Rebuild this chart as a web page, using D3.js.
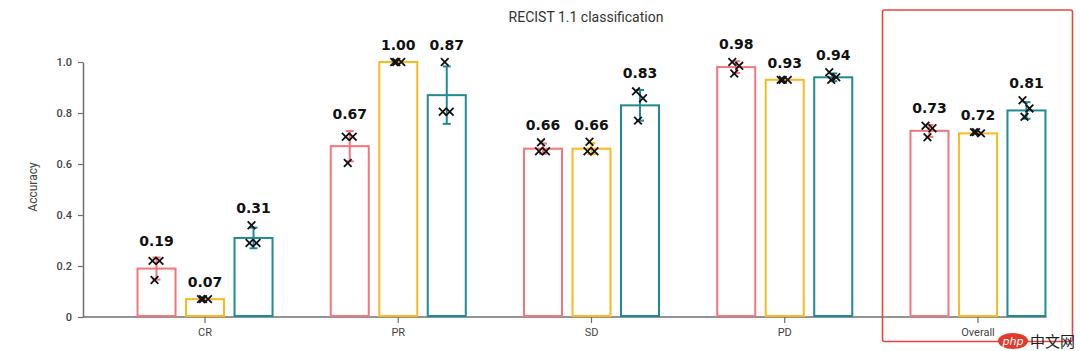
<!DOCTYPE html>
<html>
<head>
<meta charset="utf-8">
<script src="https://cdn.jsdelivr.net/npm/d3@7"></script>
<style>
  html, body { margin: 0; padding: 0; background: #fff; }
  svg { display: block; }
</style>
</head>
<body>
<div id="chart"></div>
<script>
// Categories and series
const groups = ['CR', 'PR', 'SD', 'PD', 'Overall'];
const seriesNames = ['Model 1', 'Model 2', 'Model 3'];
const seriesColors = ['#f4757c', '#fbb91e', '#1f8b95'];

// Bar values (mean accuracy), one array per series
const model1Acc = [0.19, 0.67, 0.66, 0.98, 0.73];
const model2Acc = [0.07, 1.00, 0.66, 0.93, 0.72];
const model3Acc = [0.31, 0.87, 0.83, 0.94, 0.81];

// Individual runs (the x markers), one list per category
const model1Runs = [[0.22, 0.22, 0.145], [0.707, 0.707, 0.604], [0.65, 0.65, 0.685], [1.0, 0.985, 0.955], [0.75, 0.74, 0.705]];
const model2Runs = [[0.07, 0.07, 0.07], [1.0, 1.0, 1.0], [0.65, 0.65, 0.687], [0.93, 0.93, 0.93], [0.725, 0.72, 0.725]];
const model3Runs = [[0.29, 0.29, 0.36], [0.805, 0.805, 1.0], [0.885, 0.858, 0.77], [0.96, 0.94, 0.93], [0.85, 0.818, 0.785]];

const yTicks = [0, 0.2, 0.4, 0.6, 0.8, 1.0];

const accs = [model1Acc, model2Acc, model3Acc];
const runs = [model1Runs, model2Runs, model3Runs];

// one row per bar
const bars = [];
groups.forEach((g, gi) => {
  seriesNames.forEach((s, si) => {
    const pts = runs[si][gi];
    bars.push({
      group: g,
      series: s,
      color: seriesColors[si],
      value: accs[si][gi],
      points: pts,
      sd: d3.deviation(pts) || 0
    });
  });
});

const width = 1080, height = 351;
const svg = d3.select('#chart').append('svg')
  .attr('width', width)
  .attr('height', height);

// Scales
const x0 = d3.scaleBand()
  .domain(groups)
  .range([108.4, 1074.6])
  .paddingInner(0.247)
  .paddingOuter(0.1235);

const x1 = d3.scaleBand()
  .domain(seriesNames)
  .range([0, x0.bandwidth()])
  .paddingInner(0.175)
  .paddingOuter(0.0875);

const y = d3.scaleLinear().domain([0, 1]).range([317, 62]);

const axisColor = '#6f6f6f';
const textColor = '#444';

// Title
svg.append('text')
  .attr('x', 586)
  .attr('y', 22)
  .attr('text-anchor', 'middle')
  .style('font-family', 'Roboto, sans-serif')
  .style('font-size', '14px')
  .attr('fill', '#333')
  .text('RECIST 1.1 classification');

// Y axis
const yAxis = svg.append('g')
  .attr('transform', 'translate(83,0)')
  .call(d3.axisLeft(y)
    .tickValues(yTicks)
    .tickFormat(d => d === 0 ? '0' : d3.format('.1f')(d))
    .tickSize(5)
    .tickSizeOuter(0)
    .tickPadding(6));
yAxis.select('.domain').attr('stroke', axisColor).attr('stroke-width', 1.5);
yAxis.selectAll('.tick line').attr('stroke', axisColor).attr('stroke-width', 1.2);
yAxis.selectAll('.tick text')
  .attr('fill', textColor)
  .style('font-family', 'Roboto, sans-serif')
  .style('font-size', '11px')
  .style('font-weight', 500);

svg.append('text')
  .attr('transform', 'translate(37,187) rotate(-90)')
  .attr('text-anchor', 'middle')
  .style('font-family', 'Roboto, sans-serif')
  .style('font-size', '12px')
  .attr('fill', textColor)
  .text('Accuracy');

// X axis
const lastRight = x0(groups[groups.length - 1]) + x1(seriesNames[2]) + x1.bandwidth();
const xAxis = svg.append('g')
  .attr('transform', 'translate(0,317)')
  .call(d3.axisBottom(x0).tickSize(6).tickSizeOuter(0).tickPadding(5));
xAxis.select('.domain').remove();
xAxis.selectAll('.tick line').attr('stroke', axisColor).attr('stroke-width', 1.2);
xAxis.selectAll('.tick text')
  .attr('fill', textColor)
  .style('font-family', 'Roboto, sans-serif')
  .style('font-size', '11px');
svg.append('line')
  .attr('x1', 83).attr('x2', lastRight)
  .attr('y1', 317).attr('y2', 317)
  .attr('stroke', axisColor)
  .attr('stroke-width', 1.5);

// Bars
const barG = svg.append('g')
  .selectAll('g')
  .data(bars)
  .join('g')
    .attr('transform', d => `translate(${x0(d.group) + x1(d.series)},0)`);

barG.append('rect')
  .attr('x', 1)
  .attr('y', d => y(d.value))
  .attr('width', x1.bandwidth() - 2)
  .attr('height', d => y(0) - y(d.value) - 1)
  .attr('fill', '#fff')
  .attr('stroke', d => d.color)
  .attr('stroke-width', 2);

// Error bars (mean ± sd of runs)
const cx = x1.bandwidth() / 2;
const errG = barG.append('g')
  .attr('stroke', d => d.color)
  .attr('stroke-width', 2);
errG.append('line')
  .attr('x1', cx).attr('x2', cx)
  .attr('y1', d => y(d.value + d.sd))
  .attr('y2', d => y(d.value - d.sd));
errG.append('line')
  .attr('x1', cx - 4).attr('x2', cx + 4)
  .attr('y1', d => y(d.value + d.sd))
  .attr('y2', d => y(d.value + d.sd));
errG.append('line')
  .attr('x1', cx - 4).attr('x2', cx + 4)
  .attr('y1', d => y(d.value - d.sd))
  .attr('y2', d => y(d.value - d.sd));

// Run markers
const jitter = [-4, 3, -2];
const xSym = d3.symbol().type(d3.symbolX).size(40);
barG.selectAll('path.run')
  .data(d => d.points.map((v, i) => ({ v, i })))
  .join('path')
    .attr('class', 'run')
    .attr('d', xSym)
    .attr('transform', p => `translate(${cx + jitter[p.i]},${y(p.v)})`)
    .attr('fill', 'none')
    .attr('stroke', '#111')
    .attr('stroke-width', 1.8);

// Value labels
barG.append('text')
  .attr('x', cx)
  .attr('y', d => y(Math.max(d.value + d.sd, d3.max(d.points))) - 12)
  .attr('text-anchor', 'middle')
  .style('font-family', '"DejaVu Sans", sans-serif')
  .style('font-size', '14px')
  .style('font-weight', 'bold')
  .attr('fill', '#111')
  .text(d => d3.format('.2f')(d.value));

// Highlight box round "Overall"
svg.append('rect')
  .attr('x', 882.5).attr('y', 10)
  .attr('width', 190).attr('height', 331.5)
  .attr('rx', 2)
  .attr('fill', 'none')
  .attr('stroke', '#e8453c')
  .attr('stroke-width', 1.6);

// Watermark
const wm = svg.append('g');
wm.append('ellipse')
  .attr('cx', 1013).attr('cy', 341)
  .attr('rx', 15).attr('ry', 8)
  .attr('fill', '#e23b2e');
wm.append('text')
  .attr('x', 1013).attr('y', 345)
  .attr('text-anchor', 'middle')
  .style('font-family', '"DejaVu Sans", sans-serif')
  .style('font-size', '11px')
  .style('font-style', 'italic')
  .attr('fill', '#fff')
  .text('php');
wm.append('text')
  .attr('x', 1030).attr('y', 347)
  .style('font-family', '"Noto Sans CJK SC", sans-serif')
  .style('font-size', '15px')
  .attr('fill', '#222')
  .text('中文网');
</script>
</body>
</html>
